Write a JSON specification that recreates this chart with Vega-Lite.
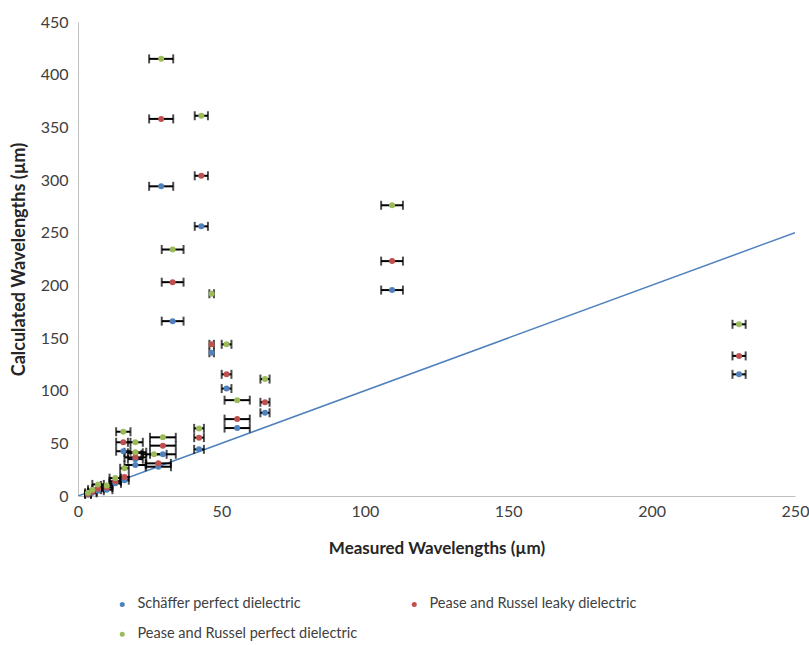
{
  "$schema": "https://vega.github.io/schema/vega-lite/v6.json",
  "width": 717,
  "height": 474,
  "autosize": {"type": "none"},
  "padding": {"left": 78, "top": 22, "right": 14, "bottom": 149},
  "background": "white",
  "config": {
    "view": {"stroke": null},
    "font": "Lato",
    "axis": {"labelFont": "Lato", "titleFont": "Lato", "grid": false, "ticks": false, "labelFlush": false, "domainColor": "#BFBFBF", "labelColor": "#404040", "labelFontSize": 16, "titleFontWeight": "bold", "titleColor": "#262626"},
    "legend": {"labelFont": "Lato", "labelFontSize": 14.5, "labelColor": "#404040"}
  },
  "datasets": {
    "pts": [
      {"series": "Schäffer perfect dielectric", "x": 29, "err": 4.2, "y": 294},
      {"series": "Pease and Russel leaky dielectric", "x": 29, "err": 4.2, "y": 358},
      {"series": "Pease and Russel perfect dielectric", "x": 29, "err": 4.2, "y": 415},
      {"series": "Schäffer perfect dielectric", "x": 43, "err": 2.3, "y": 256},
      {"series": "Pease and Russel leaky dielectric", "x": 43, "err": 2.3, "y": 304},
      {"series": "Pease and Russel perfect dielectric", "x": 43, "err": 2.3, "y": 361},
      {"series": "Schäffer perfect dielectric", "x": 33, "err": 3.8, "y": 166},
      {"series": "Pease and Russel leaky dielectric", "x": 33, "err": 3.8, "y": 203},
      {"series": "Pease and Russel perfect dielectric", "x": 33, "err": 3.8, "y": 234},
      {"series": "Schäffer perfect dielectric", "x": 46.6, "err": 0.8, "y": 136},
      {"series": "Pease and Russel leaky dielectric", "x": 46.6, "err": 0.8, "y": 144},
      {"series": "Pease and Russel perfect dielectric", "x": 46.6, "err": 0.8, "y": 192},
      {"series": "Schäffer perfect dielectric", "x": 51.8, "err": 1.7, "y": 102},
      {"series": "Pease and Russel leaky dielectric", "x": 51.8, "err": 1.7, "y": 115.5},
      {"series": "Pease and Russel perfect dielectric", "x": 51.8, "err": 1.7, "y": 144},
      {"series": "Schäffer perfect dielectric", "x": 55.5, "err": 4.4, "y": 64.5},
      {"series": "Pease and Russel leaky dielectric", "x": 55.5, "err": 4.4, "y": 73},
      {"series": "Pease and Russel perfect dielectric", "x": 55.5, "err": 4.4, "y": 91},
      {"series": "Schäffer perfect dielectric", "x": 65.2, "err": 1.6, "y": 79},
      {"series": "Pease and Russel leaky dielectric", "x": 65.2, "err": 1.6, "y": 89},
      {"series": "Pease and Russel perfect dielectric", "x": 65.2, "err": 1.6, "y": 111},
      {"series": "Schäffer perfect dielectric", "x": 42.2, "err": 1.7, "y": 44.3},
      {"series": "Pease and Russel leaky dielectric", "x": 42.2, "err": 1.7, "y": 55.4},
      {"series": "Pease and Russel perfect dielectric", "x": 42.2, "err": 1.7, "y": 64.2},
      {"series": "Schäffer perfect dielectric", "x": 109.5, "err": 3.8, "y": 195.5},
      {"series": "Pease and Russel leaky dielectric", "x": 109.5, "err": 3.8, "y": 223},
      {"series": "Pease and Russel perfect dielectric", "x": 109.5, "err": 3.8, "y": 276},
      {"series": "Schäffer perfect dielectric", "x": 230.5, "err": 2.3, "y": 115.5},
      {"series": "Pease and Russel leaky dielectric", "x": 230.5, "err": 2.3, "y": 133},
      {"series": "Pease and Russel perfect dielectric", "x": 230.5, "err": 2.3, "y": 163},
      {"series": "Schäffer perfect dielectric", "x": 15.8, "err": 2.5, "y": 42.5},
      {"series": "Pease and Russel leaky dielectric", "x": 15.8, "err": 2.5, "y": 51},
      {"series": "Pease and Russel perfect dielectric", "x": 15.8, "err": 2.5, "y": 61},
      {"series": "Schäffer perfect dielectric", "x": 20, "err": 2.6, "y": 35},
      {"series": "Pease and Russel leaky dielectric", "x": 20, "err": 2.6, "y": 41},
      {"series": "Pease and Russel perfect dielectric", "x": 20, "err": 2.6, "y": 51},
      {"series": "Schäffer perfect dielectric", "x": 20, "err": 3.8, "y": 29.4},
      {"series": "Pease and Russel leaky dielectric", "x": 20, "err": 3.8, "y": 36.7},
      {"series": "Pease and Russel perfect dielectric", "x": 20, "err": 3.8, "y": 41.5},
      {"series": "Schäffer perfect dielectric", "x": 29.6, "err": 4.5, "y": 39.6},
      {"series": "Pease and Russel leaky dielectric", "x": 29.6, "err": 4.5, "y": 47.8},
      {"series": "Pease and Russel perfect dielectric", "x": 29.6, "err": 4.5, "y": 55.7},
      {"series": "Schäffer perfect dielectric", "x": 28, "err": 4.4, "y": 27.8},
      {"series": "Pease and Russel leaky dielectric", "x": 28, "err": 4.4, "y": 31},
      {"series": "Pease and Russel perfect dielectric", "x": 26.5, "err": 4.4, "y": 39.6},
      {"series": "Schäffer perfect dielectric", "x": 16.2, "err": 1.5, "y": 15},
      {"series": "Pease and Russel leaky dielectric", "x": 16.2, "err": 1.5, "y": 18},
      {"series": "Pease and Russel perfect dielectric", "x": 16.2, "err": 1.5, "y": 26.3},
      {"series": "Schäffer perfect dielectric", "x": 13, "err": 2, "y": 12},
      {"series": "Pease and Russel leaky dielectric", "x": 13, "err": 2, "y": 14},
      {"series": "Pease and Russel perfect dielectric", "x": 13, "err": 2, "y": 17},
      {"series": "Schäffer perfect dielectric", "x": 10, "err": 2, "y": 6},
      {"series": "Pease and Russel leaky dielectric", "x": 10, "err": 2, "y": 8},
      {"series": "Pease and Russel perfect dielectric", "x": 10, "err": 2, "y": 10},
      {"series": "Schäffer perfect dielectric", "x": 7, "err": 2, "y": 5},
      {"series": "Pease and Russel leaky dielectric", "x": 7, "err": 2, "y": 7},
      {"series": "Pease and Russel perfect dielectric", "x": 7, "err": 2, "y": 11},
      {"series": "Schäffer perfect dielectric", "x": 5, "err": 1.5, "y": 3},
      {"series": "Pease and Russel leaky dielectric", "x": 5, "err": 1.5, "y": 4},
      {"series": "Pease and Russel perfect dielectric", "x": 5, "err": 1.5, "y": 6},
      {"series": "Schäffer perfect dielectric", "x": 3.5, "err": 1, "y": 1.5},
      {"series": "Pease and Russel leaky dielectric", "x": 3.5, "err": 1, "y": 2},
      {"series": "Pease and Russel perfect dielectric", "x": 3.5, "err": 1, "y": 3}
    ],
    "diag": [
      {"x": 0, "y": 0},
      {"x": 250, "y": 250}
    ]
  },
  "layer": [
    {
      "data": {"name": "diag"},
      "mark": {"type": "line", "color": "#4F81BD", "strokeWidth": 1.5, "clip": true},
      "encoding": {
        "x": {"field": "x", "type": "quantitative", "scale": {"domain": [0, 250], "nice": false}, "axis": {"values": [0, 50, 100, 150, 200, 250], "title": "Measured Wavelengths (µm)", "titleFontSize": 17, "labelPadding": 7, "titlePadding": 21}},
        "y": {"field": "y", "type": "quantitative", "scale": {"domain": [0, 450], "nice": false}, "axis": {"values": [0, 50, 100, 150, 200, 250, 300, 350, 400, 450], "title": "Calculated Wavelengths (µm)", "titleFontSize": 18, "labelPadding": 10, "titlePadding": 12}}
      }
    },
    {
      "data": {"name": "pts"},
      "mark": {"type": "errorbar", "ticks": {"size": 9, "thickness": 2, "color": "#000000"}, "rule": {"strokeWidth": 2, "color": "#000000"}},
      "encoding": {
        "x": {"field": "x", "type": "quantitative", "title": "Measured Wavelengths (µm)"},
        "xError": {"field": "err"},
        "y": {"field": "y", "type": "quantitative", "title": "Calculated Wavelengths (µm)"}
      }
    },
    {
      "data": {"name": "pts"},
      "mark": {"type": "point", "filled": true, "size": 36, "opacity": 1},
      "encoding": {
        "x": {"field": "x", "type": "quantitative"},
        "y": {"field": "y", "type": "quantitative"},
        "color": {
          "field": "series", "type": "nominal",
          "scale": {"domain": ["Schäffer perfect dielectric", "Pease and Russel leaky dielectric", "Pease and Russel perfect dielectric"], "range": ["#4F81BD", "#C0504D", "#9BBB59"]},
          "legend": {"title": null, "orient": "none", "legendX": 37, "legendY": 575, "direction": "horizontal", "columns": 2, "columnPadding": 49, "rowPadding": 15, "symbolSize": 25, "symbolType": "circle", "labelOffset": 8, "padding": 0, "labelLimit": 400}
        }
      }
    }
  ]
}
